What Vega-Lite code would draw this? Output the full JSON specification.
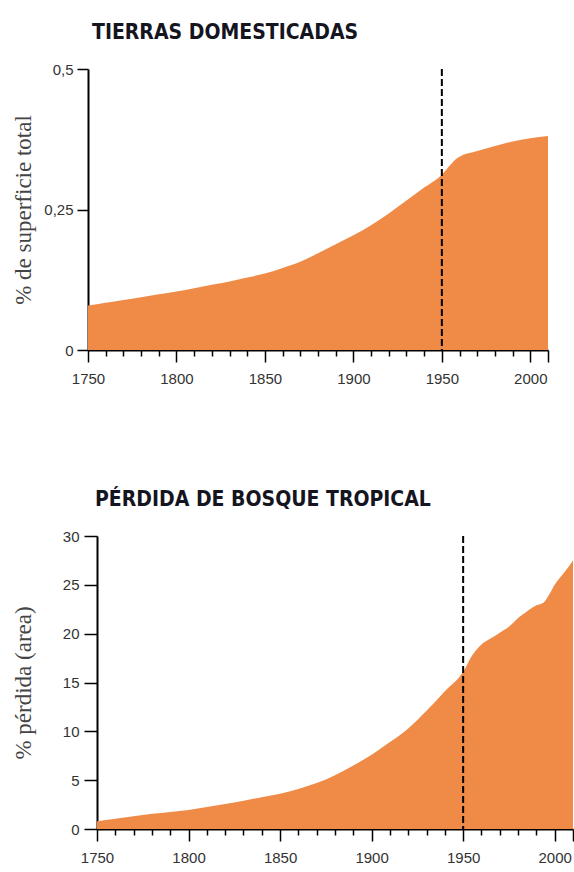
{
  "$schema": "https://vega.github.io/schema/vega-lite/v6.json",
  "padding": {"left": 12, "top": 22, "right": 0, "bottom": 0},
  "background": "white",
  "datasets": {
    "tierras": [
      {"year": 1750, "value": 0.079}, {"year": 1760, "value": 0.084}, {"year": 1770, "value": 0.089},
      {"year": 1780, "value": 0.094}, {"year": 1790, "value": 0.099}, {"year": 1800, "value": 0.104},
      {"year": 1810, "value": 0.110}, {"year": 1820, "value": 0.116}, {"year": 1830, "value": 0.122},
      {"year": 1840, "value": 0.129}, {"year": 1850, "value": 0.136}, {"year": 1860, "value": 0.146},
      {"year": 1870, "value": 0.157}, {"year": 1880, "value": 0.172}, {"year": 1890, "value": 0.188},
      {"year": 1900, "value": 0.204}, {"year": 1910, "value": 0.222}, {"year": 1920, "value": 0.243},
      {"year": 1930, "value": 0.266}, {"year": 1940, "value": 0.289}, {"year": 1950, "value": 0.312},
      {"year": 1955, "value": 0.330}, {"year": 1958, "value": 0.340}, {"year": 1960, "value": 0.344},
      {"year": 1970, "value": 0.354}, {"year": 1980, "value": 0.363}, {"year": 1990, "value": 0.371},
      {"year": 2000, "value": 0.377}, {"year": 2010, "value": 0.381}
    ],
    "bosque": [
      {"year": 1750, "value": 0.8}, {"year": 1760, "value": 1.05}, {"year": 1770, "value": 1.3},
      {"year": 1780, "value": 1.55}, {"year": 1790, "value": 1.75}, {"year": 1800, "value": 1.95},
      {"year": 1810, "value": 2.25}, {"year": 1820, "value": 2.55}, {"year": 1830, "value": 2.9},
      {"year": 1840, "value": 3.25}, {"year": 1850, "value": 3.6}, {"year": 1860, "value": 4.1},
      {"year": 1870, "value": 4.7}, {"year": 1880, "value": 5.5}, {"year": 1890, "value": 6.5},
      {"year": 1900, "value": 7.6}, {"year": 1910, "value": 8.9}, {"year": 1920, "value": 10.3},
      {"year": 1930, "value": 12.1}, {"year": 1940, "value": 14.1}, {"year": 1950, "value": 16.1},
      {"year": 1955, "value": 17.8}, {"year": 1960, "value": 18.9}, {"year": 1965, "value": 19.5},
      {"year": 1970, "value": 20.1}, {"year": 1975, "value": 20.7}, {"year": 1980, "value": 21.6},
      {"year": 1985, "value": 22.3}, {"year": 1990, "value": 22.9}, {"year": 1994, "value": 23.2},
      {"year": 1997, "value": 24.0}, {"year": 2000, "value": 25.0}, {"year": 2005, "value": 26.2},
      {"year": 2010, "value": 27.5}
    ]
  },
  "config": {
    "view": {"stroke": null},
    "axis": {
      "domainColor": "#000", "domainWidth": 2, "tickColor": "#000", "tickWidth": 1.5,
      "labelFont": "Liberation Sans", "labelFontSize": 15, "labelColor": "#333",
      "grid": false,
      "titleFont": "Liberation Serif", "titleFontSize": 23, "titleFontWeight": "normal", "titleColor": "#444"
    },
    "title": {
      "font": "'DejaVu Sans Condensed', 'Liberation Sans Narrow', Roboto",
      "fontSize": 21, "fontWeight": "bold", "color": "#15151f",
      "anchor": "start", "frame": "group"
    }
  },
  "spacing": 103,
  "vconcat": [
    {
      "width": 460, "height": 281,
      "title": {"text": "TIERRAS DOMESTICADAS", "dx": 4, "offset": 19},
      "layer": [
        {
          "data": {"name": "tierras"},
          "mark": {"type": "area", "color": "#EF8A47", "interpolate": "monotone"},
          "encoding": {
            "x": {
              "field": "year", "type": "quantitative",
              "scale": {"domain": [1750, 2010], "nice": false},
              "axis": {
                "title": null, "format": "d", "tickCount": 40,
                "values": [1750,1760,1770,1780,1790,1800,1810,1820,1830,1840,1850,1860,1870,1880,1890,1900,1910,1920,1930,1940,1950,1960,1970,1980,1990,2000,2010],
                "labelExpr": "datum.value % 50 === 0 ? datum.label : ''",
                "labelOverlap": false, "labelFlush": false,
                "tickSize": {"condition": {"test": "datum.value % 50 === 0 || datum.value === 2010", "value": 12}, "value": 6},
                "labelPadding": 9
              }
            },
            "y": {
              "field": "value", "type": "quantitative",
              "scale": {"domain": [0, 0.5], "nice": false},
              "axis": {
                "title": "% de superficie total", "values": [0, 0.25, 0.5], "tickCount": 10,
                "labelExpr": "replace(toString(datum.value), '.', ',')",
                "tickSize": 11, "labelPadding": 4, "titlePadding": 8
              }
            }
          }
        },
        {
          "data": {"values": [{}]},
          "mark": {"type": "rule", "strokeDash": [7, 3], "strokeWidth": 2, "color": "#000"},
          "encoding": {"x": {"datum": 1950}}
        }
      ]
    },
    {
      "width": 485, "height": 293,
      "title": {"text": "PÉRDIDA DE BOSQUE TROPICAL", "dx": 7, "offset": 19},
      "layer": [
        {
          "data": {"name": "bosque"},
          "mark": {"type": "area", "color": "#EF8A47", "interpolate": "monotone"},
          "encoding": {
            "x": {
              "field": "year", "type": "quantitative",
              "scale": {"domain": [1750, 2010], "nice": false, "range": [9, 485]},
              "axis": {
                "title": null, "format": "d", "tickCount": 40,
                "values": [1750,1760,1770,1780,1790,1800,1810,1820,1830,1840,1850,1860,1870,1880,1890,1900,1910,1920,1930,1940,1950,1960,1970,1980,1990,2000,2010],
                "labelExpr": "datum.value % 50 === 0 ? datum.label : ''",
                "labelOverlap": false, "labelFlush": false,
                "tickSize": {"condition": {"test": "datum.value % 50 === 0 || datum.value === 2010", "value": 12}, "value": 6},
                "labelPadding": 9
              }
            },
            "y": {
              "field": "value", "type": "quantitative",
              "scale": {"domain": [0, 30], "nice": false},
              "axis": {
                "title": "% pérdida (area)", "values": [0, 5, 10, 15, 20, 25, 30], "tickCount": 10,
                "offset": -9,
                "tickSize": 13, "labelPadding": 5, "titlePadding": 27
              }
            }
          }
        },
        {
          "data": {"values": [{}]},
          "mark": {"type": "rule", "strokeDash": [7, 3], "strokeWidth": 2, "color": "#000"},
          "encoding": {"x": {"datum": 1950}}
        }
      ]
    }
  ]
}
